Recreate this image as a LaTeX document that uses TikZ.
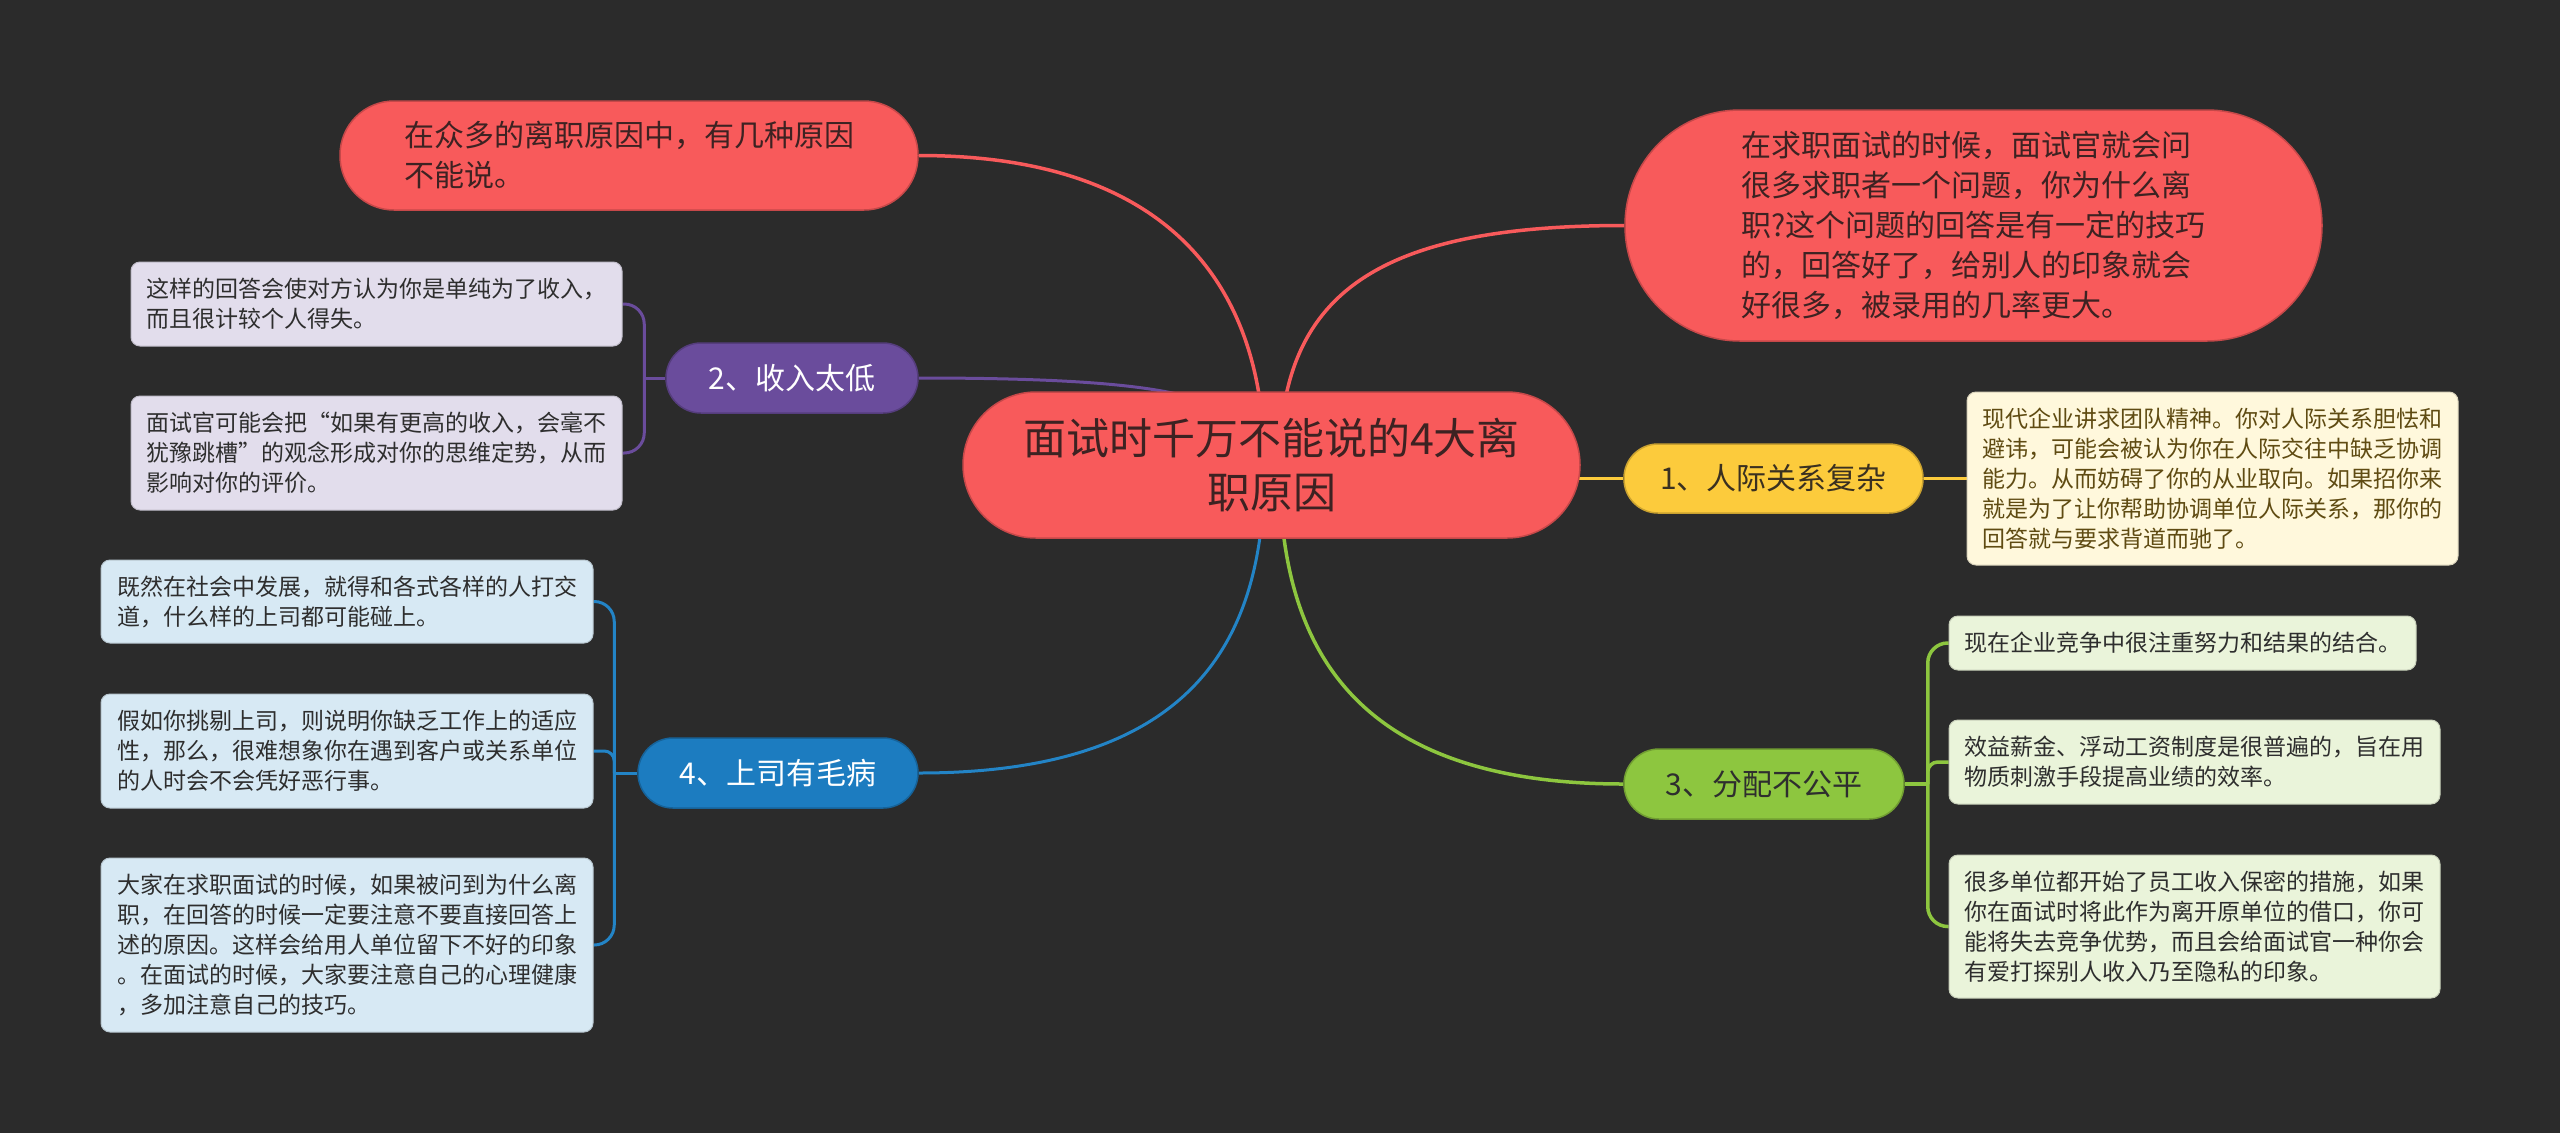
\documentclass[tikz,border=0pt]{standalone}
\usepackage{fontspec}
\newfontfamily\cjk{Noto Sans CJK SC}
\usetikzlibrary{calc}
\definecolor{cbg}{HTML}{2B2B2B}
\definecolor{cred}{HTML}{F85A5B}
\definecolor{credtxt}{HTML}{3D2222}
\definecolor{cyel}{HTML}{FCCB3C}
\definecolor{cyeltxt}{HTML}{3A3020}
\definecolor{cyelbox}{HTML}{FFF8DC}
\definecolor{cyelboxtxt}{HTML}{5F4B12}
\definecolor{cpur}{HTML}{6A4C9C}
\definecolor{cpurbox}{HTML}{E2DDEC}
\definecolor{cblu}{HTML}{1C7CC0}
\definecolor{cbluline}{HTML}{2384C6}
\definecolor{cblubox}{HTML}{D7E9F4}
\definecolor{cgre}{HTML}{8DC63F}
\definecolor{cgrebox}{HTML}{EAF4DA}
\definecolor{cdark}{HTML}{2E2E2E}
\newcommand{\fbig}{\cjk\fontsize{43}{54}\selectfont}
\newcommand{\fmid}{\cjk\fontsize{30}{40}\selectfont}
\newcommand{\fsmall}{\cjk\fontsize{23}{30}\selectfont}
\pgfdeclarelayer{bglayer}
\pgfdeclarelayer{edgelayer}
\pgfsetlayers{bglayer,edgelayer,main}
\tikzset{
  pill/.style={inner sep=0pt, line width=1.5pt, align=left},
  redpill/.style={pill, fill=cred, draw=cred!80!black, text=credtxt, font=\fmid},
  detail/.style={inner sep=0pt, rounded corners=9pt, align=left, font=\fsmall, text=cdark, line width=1pt},
  redline/.style={draw=cred, line width=3.5pt},
  purline/.style={draw=cpur, line width=3pt},
  yelline/.style={draw=cyel, line width=3.5pt},
  bluline/.style={draw=cbluline, line width=3pt},
  greline/.style={draw=cgre, line width=3.5pt},
}
\begin{document}
\begin{tikzpicture}[x=1pt,y=-1pt]
\useasboundingbox (0,0) rectangle (2560,1133);
\begin{pgfonlayer}{bglayer}
\fill[cbg] (0,0) rectangle (2560,1133);
\end{pgfonlayer}

% central node
\node[pill, fill=cred, draw=cred!80!black, text=credtxt, font=\fbig, align=center,
      minimum width=617pt, minimum height=146pt, rounded corners=73pt] (c) at (1271.5,465)
      {面试时千万不能说的4大离\\职原因};

% top nodes
\node[redpill, minimum width=578pt, minimum height=109pt, rounded corners=54pt] (t1) at (629,155.5)
      {在众多的离职原因中，有几种原因\\不能说。};
\node[redpill, minimum width=697pt, minimum height=231pt, rounded corners=115pt] (t2) at (1973.5,225.5)
      {在求职面试的时候，面试官就会问\\很多求职者一个问题，你为什么离\\职?这个问题的回答是有一定的技巧\\的，回答好了，给别人的印象就会\\好很多，被录用的几率更大。};

% branch 1 (yellow)
\node[pill, fill=cyel, draw=cyel!80!black, text=cyeltxt, font=\fmid,
      minimum width=299pt, minimum height=69pt, rounded corners=34pt] (n1) at (1773.5,478.5)
      {1、人际关系复杂};
\node[detail, fill=cyelbox, draw=cyelbox!85!black, text=cyelboxtxt,
      minimum width=491pt, minimum height=173pt] (y1) at (2212.5,478.5)
      {现代企业讲求团队精神。你对人际关系胆怯和\\避讳，可能会被认为你在人际交往中缺乏协调\\能力。从而妨碍了你的从业取向。如果招你来\\就是为了让你帮助协调单位人际关系，那你的\\回答就与要求背道而驰了。};

% branch 2 (purple)
\node[pill, fill=cpur, draw=cpur!80!black, text=white, font=\fmid,
      minimum width=252pt, minimum height=70pt, rounded corners=35pt] (n2) at (792,378)
      {2、收入太低};
\node[detail, fill=cpurbox, draw=cpurbox!85!black, minimum width=491pt, minimum height=84pt] (p1) at (376.5,304)
      {这样的回答会使对方认为你是单纯为了收入，\\而且很计较个人得失。};
\node[detail, fill=cpurbox, draw=cpurbox!85!black, minimum width=491pt, minimum height=114pt] (p2) at (376.5,453)
      {面试官可能会把“如果有更高的收入，会毫不\\犹豫跳槽”的观念形成对你的思维定势，从而\\影响对你的评价。};

% branch 4 (blue)
\node[pill, fill=cblu, draw=cblu!80!black, text=white, font=\fmid,
      minimum width=280pt, minimum height=70pt, rounded corners=35pt] (n4) at (778,773)
      {4、上司有毛病};
\node[detail, fill=cblubox, draw=cblubox!85!black, minimum width=492pt, minimum height=83pt] (b1) at (347,601.5)
      {既然在社会中发展，就得和各式各样的人打交\\道，什么样的上司都可能碰上。};
\node[detail, fill=cblubox, draw=cblubox!85!black, minimum width=492pt, minimum height=114pt] (b2) at (347,751)
      {假如你挑剔上司，则说明你缺乏工作上的适应\\性，那么，很难想象你在遇到客户或关系单位\\的人时会不会凭好恶行事。};
\node[detail, fill=cblubox, draw=cblubox!85!black, minimum width=492pt, minimum height=174pt] (b3) at (347,945)
      {大家在求职面试的时候，如果被问到为什么离\\职，在回答的时候一定要注意不要直接回答上\\述的原因。这样会给用人单位留下不好的印象\\。在面试的时候，大家要注意自己的心理健康\\，多加注意自己的技巧。};

% branch 3 (green)
\node[pill, fill=cgre, draw=cgre!80!black, text=cdark, font=\fmid,
      minimum width=280pt, minimum height=70pt, rounded corners=35pt] (n3) at (1764,784)
      {3、分配不公平};
\node[detail, fill=cgrebox, draw=cgrebox!85!black, minimum width=467pt, minimum height=54pt] (g1) at (2182.5,643)
      {现在企业竞争中很注重努力和结果的结合。};
\node[detail, fill=cgrebox, draw=cgrebox!85!black, minimum width=491pt, minimum height=84pt] (g2) at (2194.5,762)
      {效益薪金、浮动工资制度是很普遍的，旨在用\\物质刺激手段提高业绩的效率。};
\node[detail, fill=cgrebox, draw=cgrebox!85!black, minimum width=491pt, minimum height=143pt] (g3) at (2194.5,926.5)
      {很多单位都开始了员工收入保密的措施，如果\\你在面试时将此作为离开原单位的借口，你可\\能将失去竞争优势，而且会给面试官一种你会\\有爱打探别人收入乃至隐私的印象。};

\begin{pgfonlayer}{edgelayer}
% main connectors
\draw[redline] (t1.east) .. controls +(250,0) and +(0,-180) .. ([xshift=-7pt]c.center);
\draw[redline] (t2.west) .. controls +(-250,0) and +(0,-170) .. ([xshift=8pt]c.center);
\draw[purline] (n2.east) .. controls +(300,0) and +(-30,-60) .. (c.center);
\draw[yelline] ($(c.east|-n1.west)+(-30,0)$) -- (n1.west);
\draw[bluline] (n4.east) .. controls +(290,0) and +(0,160) .. ([xshift=-7pt]c.center);
\draw[greline] (n3.west) .. controls +(-290,0) and +(0,160) .. ([xshift=8pt]c.center);
% yellow detail
\draw[yelline] (n1.east) -- (y1.west);
% purple brackets
\draw[purline] (n2.west) -- ++(-21,0) coordinate (ps);
\draw[purline, rounded corners=20pt] (ps) |- (p1.east);
\draw[purline, rounded corners=20pt] (ps) |- (p2.east);
% blue brackets
\draw[bluline] (n4.west) -- ++(-23,0) coordinate (bs);
\draw[bluline, rounded corners=20pt] (bs) |- (b1.east);
\draw[bluline, rounded corners=10pt] (bs) |- (b2.east);
\draw[bluline, rounded corners=20pt] (bs) |- (b3.east);
% green brackets
\draw[greline] (n3.east) -- ++(23,0) coordinate (gs);
\draw[greline, rounded corners=20pt] (gs) |- (g1.west);
\draw[greline, rounded corners=10pt] (gs) |- (g2.west);
\draw[greline, rounded corners=20pt] (gs) |- (g3.west);
\end{pgfonlayer}
\end{tikzpicture}
\end{document}
